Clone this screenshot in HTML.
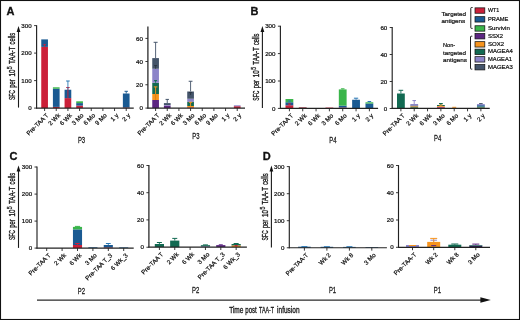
<!DOCTYPE html>
<html lang="en"><head><meta charset="utf-8"><title>Figure</title>
<style>html,body{margin:0;padding:0;background:#fff}svg{display:block}.t{font-family:"Liberation Sans",sans-serif;font-size:6.2px;fill:#111;stroke:#111;stroke-width:0.22px}.l{font-family:"Liberation Sans",sans-serif;font-size:6.05px;fill:#111;stroke:#111;stroke-width:0.22px}.c{font-family:"Liberation Sans",sans-serif;font-size:9.6px;fill:#1a1a1a;stroke:#1a1a1a;stroke-width:0.36px}.cs{font-family:"Liberation Sans",sans-serif;font-size:6.6px;fill:#1a1a1a;stroke:#1a1a1a;stroke-width:0.3px}.pl{font-family:"Liberation Sans",sans-serif;font-size:9.4px;fill:#1a1a1a;stroke:#1a1a1a;stroke-width:0.3px}.p{font-family:"Liberation Sans",sans-serif;font-size:11px;font-weight:bold;fill:#111;stroke:#111;stroke-width:0.3px}</style></head><body>
<svg width="520" height="320" viewBox="0 0 520 320">
<rect x="0" y="0" width="520" height="320" fill="#fff"/>
<rect x="0.5" y="0.5" width="519" height="319" fill="none" stroke="#111" stroke-width="1.1"/>
<text x="6.5" y="14.6" class="p">A</text>
<text x="250.4" y="15" class="p">B</text>
<text x="9.5" y="159.6" class="p">C</text>
<text x="262.8" y="159.6" class="p">D</text>
<rect x="41.25" y="46.9" width="6.7" height="61.2" fill="#CB2039"/>
<rect x="41.25" y="39.4" width="6.7" height="7.5" fill="#1A5A92"/>
<line x1="44.6" y1="46.9" x2="44.6" y2="44.6" stroke="#CB2039" stroke-width="0.9"/>
<line x1="43.4" y1="44.6" x2="45.8" y2="44.6" stroke="#CB2039" stroke-width="1"/>
<rect x="52.91" y="106.9" width="6.7" height="1.2" fill="#CB2039"/>
<rect x="52.91" y="88.75" width="6.7" height="18.15" fill="#1A5A92"/>
<rect x="52.91" y="87.3" width="6.7" height="1.45" fill="#3AB54A"/>
<rect x="64.57" y="98.1" width="6.7" height="10" fill="#CB2039"/>
<rect x="64.57" y="89.75" width="6.7" height="8.35" fill="#1A5A92"/>
<line x1="67.92" y1="98.1" x2="67.92" y2="87.5" stroke="#CB2039" stroke-width="0.9"/>
<line x1="66.22" y1="87.5" x2="69.62" y2="87.5" stroke="#CB2039" stroke-width="1"/>
<line x1="67.92" y1="89.75" x2="67.92" y2="81" stroke="#2B78B4" stroke-width="0.9"/>
<line x1="66.12" y1="81" x2="69.72" y2="81" stroke="#2B78B4" stroke-width="1"/>
<rect x="76.23" y="105.6" width="6.7" height="2.5" fill="#CB2039"/>
<rect x="76.23" y="103.1" width="6.7" height="2.5" fill="#1A5A92"/>
<rect x="76.23" y="101.3" width="6.7" height="1.8" fill="#3AB54A"/>
<rect x="122.87" y="107.5" width="6.7" height="0.6" fill="#CB2039"/>
<rect x="122.87" y="93.5" width="6.7" height="14" fill="#1A5A92"/>
<line x1="126.22" y1="93.5" x2="126.22" y2="91.3" stroke="#1A5A92" stroke-width="0.9"/>
<line x1="124.52" y1="91.3" x2="127.92" y2="91.3" stroke="#1A5A92" stroke-width="1"/>
<line x1="36.6" y1="25.2" x2="36.6" y2="108.6" stroke="#222" stroke-width="1.15"/>
<line x1="36.1" y1="108.1" x2="133.75" y2="108.1" stroke="#222" stroke-width="1.15"/>
<line x1="34.1" y1="108.1" x2="36.6" y2="108.1" stroke="#222" stroke-width="0.9"/>
<text x="31.7" y="110.2" text-anchor="end" class="t">0</text>
<line x1="34.1" y1="80.6" x2="36.6" y2="80.6" stroke="#222" stroke-width="0.9"/>
<text x="31.7" y="82.7" text-anchor="end" class="t">100</text>
<line x1="34.1" y1="53.1" x2="36.6" y2="53.1" stroke="#222" stroke-width="0.9"/>
<text x="31.7" y="55.2" text-anchor="end" class="t">200</text>
<line x1="34.1" y1="25.6" x2="36.6" y2="25.6" stroke="#222" stroke-width="0.9"/>
<text x="31.7" y="27.7" text-anchor="end" class="t">300</text>
<line x1="44.6" y1="108.1" x2="44.6" y2="111" stroke="#222" stroke-width="0.9"/>
<text transform="translate(49,115.8) rotate(-45)" text-anchor="end" class="t">Pre-TAA T</text>
<line x1="56.26" y1="108.1" x2="56.26" y2="111" stroke="#222" stroke-width="0.9"/>
<text transform="translate(60.66,115.8) rotate(-45)" text-anchor="end" class="t">2 Wk</text>
<line x1="67.92" y1="108.1" x2="67.92" y2="111" stroke="#222" stroke-width="0.9"/>
<text transform="translate(72.32,115.8) rotate(-45)" text-anchor="end" class="t">6 Wk</text>
<line x1="79.58" y1="108.1" x2="79.58" y2="111" stroke="#222" stroke-width="0.9"/>
<text transform="translate(83.98,115.8) rotate(-45)" text-anchor="end" class="t">3 Mo</text>
<line x1="91.24" y1="108.1" x2="91.24" y2="111" stroke="#222" stroke-width="0.9"/>
<text transform="translate(95.64,115.8) rotate(-45)" text-anchor="end" class="t">6 Mo</text>
<line x1="102.9" y1="108.1" x2="102.9" y2="111" stroke="#222" stroke-width="0.9"/>
<text transform="translate(107.3,115.8) rotate(-45)" text-anchor="end" class="t">9 Mo</text>
<line x1="114.56" y1="108.1" x2="114.56" y2="111" stroke="#222" stroke-width="0.9"/>
<text transform="translate(118.96,115.8) rotate(-45)" text-anchor="end" class="t">1 y</text>
<line x1="126.22" y1="108.1" x2="126.22" y2="111" stroke="#222" stroke-width="0.9"/>
<text transform="translate(130.62,115.8) rotate(-45)" text-anchor="end" class="t">2 y</text>
<rect x="152.25" y="100" width="6.7" height="8.1" fill="#5C2682"/>
<rect x="152.25" y="94" width="6.7" height="6" fill="#F7941E"/>
<rect x="152.25" y="82.75" width="6.7" height="11.25" fill="#126A52"/>
<rect x="152.25" y="68.75" width="6.7" height="14" fill="#8C84C9"/>
<rect x="152.25" y="58.1" width="6.7" height="10.65" fill="#44546A"/>
<line x1="155.6" y1="100" x2="155.6" y2="94" stroke="#D9800F" stroke-width="0.9"/>
<line x1="155.6" y1="94" x2="155.6" y2="86.9" stroke="#F7941E" stroke-width="0.9"/>
<line x1="153.8" y1="86.9" x2="157.4" y2="86.9" stroke="#F7941E" stroke-width="1"/>
<line x1="155.6" y1="82.75" x2="155.6" y2="80.6" stroke="#126A52" stroke-width="0.9"/>
<line x1="154.1" y1="80.6" x2="157.1" y2="80.6" stroke="#126A52" stroke-width="1"/>
<line x1="155.6" y1="68.75" x2="155.6" y2="65.6" stroke="#2b3442" stroke-width="0.9"/>
<line x1="154.1" y1="65.6" x2="157.1" y2="65.6" stroke="#2b3442" stroke-width="1"/>
<line x1="155.6" y1="58.1" x2="155.6" y2="42.3" stroke="#44546A" stroke-width="0.9"/>
<line x1="153.6" y1="42.3" x2="157.6" y2="42.3" stroke="#44546A" stroke-width="1"/>
<rect x="163.91" y="105.6" width="6.7" height="2.5" fill="#5C2682"/>
<rect x="163.91" y="105" width="6.7" height="0.6" fill="#8C84C9"/>
<rect x="163.91" y="103.1" width="6.7" height="1.9" fill="#44546A"/>
<line x1="167.26" y1="103.1" x2="167.26" y2="99.4" stroke="#44546A" stroke-width="0.9"/>
<line x1="165.56" y1="99.4" x2="168.96" y2="99.4" stroke="#44546A" stroke-width="1"/>
<rect x="187.23" y="107.4" width="6.7" height="0.7" fill="#CB2039"/>
<rect x="187.23" y="106" width="6.7" height="1.4" fill="#F7941E"/>
<rect x="187.23" y="101.9" width="6.7" height="4.1" fill="#126A52"/>
<rect x="187.23" y="98.75" width="6.7" height="3.15" fill="#8C84C9"/>
<rect x="187.23" y="91.5" width="6.7" height="7.25" fill="#44546A"/>
<line x1="190.58" y1="106" x2="190.58" y2="102.3" stroke="#F7941E" stroke-width="0.9"/>
<line x1="188.88" y1="102.3" x2="192.28" y2="102.3" stroke="#F7941E" stroke-width="1"/>
<line x1="190.58" y1="95" x2="190.58" y2="92.6" stroke="#2b3442" stroke-width="0.9"/>
<line x1="188.88" y1="92.6" x2="192.28" y2="92.6" stroke="#2b3442" stroke-width="1"/>
<line x1="190.58" y1="91.5" x2="190.58" y2="81.25" stroke="#44546A" stroke-width="0.9"/>
<line x1="188.68" y1="81.25" x2="192.48" y2="81.25" stroke="#44546A" stroke-width="1"/>
<rect x="233.87" y="106.2" width="6.7" height="1.9" fill="#CB2039"/>
<rect x="233.87" y="105.3" width="6.7" height="0.9" fill="#8C84C9"/>
<line x1="147.9" y1="26.5" x2="147.9" y2="108.6" stroke="#222" stroke-width="1.25"/>
<line x1="147.4" y1="108.1" x2="245" y2="108.1" stroke="#222" stroke-width="1.25"/>
<line x1="145.4" y1="108.1" x2="147.9" y2="108.1" stroke="#222" stroke-width="0.9"/>
<text x="143" y="110.2" text-anchor="end" class="t">0</text>
<line x1="145.4" y1="84.75" x2="147.9" y2="84.75" stroke="#222" stroke-width="0.9"/>
<text x="143" y="86.85" text-anchor="end" class="t">20</text>
<line x1="145.4" y1="61.5" x2="147.9" y2="61.5" stroke="#222" stroke-width="0.9"/>
<text x="143" y="63.6" text-anchor="end" class="t">40</text>
<line x1="145.4" y1="38.4" x2="147.9" y2="38.4" stroke="#222" stroke-width="0.9"/>
<text x="143" y="40.5" text-anchor="end" class="t">60</text>
<line x1="155.6" y1="108.1" x2="155.6" y2="111" stroke="#222" stroke-width="0.9"/>
<text transform="translate(160,115.8) rotate(-45)" text-anchor="end" class="t">Pre-TAA T</text>
<line x1="167.26" y1="108.1" x2="167.26" y2="111" stroke="#222" stroke-width="0.9"/>
<text transform="translate(171.66,115.8) rotate(-45)" text-anchor="end" class="t">2 Wk</text>
<line x1="178.92" y1="108.1" x2="178.92" y2="111" stroke="#222" stroke-width="0.9"/>
<text transform="translate(183.32,115.8) rotate(-45)" text-anchor="end" class="t">6 Wk</text>
<line x1="190.58" y1="108.1" x2="190.58" y2="111" stroke="#222" stroke-width="0.9"/>
<text transform="translate(194.98,115.8) rotate(-45)" text-anchor="end" class="t">3 Mo</text>
<line x1="202.24" y1="108.1" x2="202.24" y2="111" stroke="#222" stroke-width="0.9"/>
<text transform="translate(206.64,115.8) rotate(-45)" text-anchor="end" class="t">6 Mo</text>
<line x1="213.9" y1="108.1" x2="213.9" y2="111" stroke="#222" stroke-width="0.9"/>
<text transform="translate(218.3,115.8) rotate(-45)" text-anchor="end" class="t">9 Mo</text>
<line x1="225.56" y1="108.1" x2="225.56" y2="111" stroke="#222" stroke-width="0.9"/>
<text transform="translate(229.96,115.8) rotate(-45)" text-anchor="end" class="t">1 y</text>
<line x1="237.22" y1="108.1" x2="237.22" y2="111" stroke="#222" stroke-width="0.9"/>
<text transform="translate(241.62,115.8) rotate(-45)" text-anchor="end" class="t">2 y</text>
<rect x="285.5" y="105.25" width="7.8" height="3.15" fill="#CB2039"/>
<rect x="285.5" y="102.25" width="7.8" height="3" fill="#1A5A92"/>
<rect x="285.5" y="99" width="7.8" height="3.25" fill="#3AB54A"/>
<line x1="289.4" y1="105.25" x2="289.4" y2="104" stroke="#CB2039" stroke-width="0.9"/>
<line x1="287.9" y1="104" x2="290.9" y2="104" stroke="#CB2039" stroke-width="1"/>
<line x1="289.4" y1="102.25" x2="289.4" y2="101" stroke="#2B78B4" stroke-width="0.9"/>
<line x1="287.9" y1="101" x2="290.9" y2="101" stroke="#2B78B4" stroke-width="1"/>
<rect x="298.83" y="107.4" width="7.8" height="1" fill="#8a1c2c"/>
<rect x="325.49" y="107.6" width="7.8" height="0.8" fill="#CB2039"/>
<rect x="338.82" y="107.5" width="7.8" height="0.9" fill="#CB2039"/>
<rect x="338.82" y="105.6" width="7.8" height="1.9" fill="#1A5A92"/>
<rect x="338.82" y="89.4" width="7.8" height="16.2" fill="#3AB54A"/>
<line x1="342.72" y1="89.4" x2="342.72" y2="88.8" stroke="#3AB54A" stroke-width="0.9"/>
<line x1="340.92" y1="88.8" x2="344.52" y2="88.8" stroke="#3AB54A" stroke-width="1"/>
<rect x="352.15" y="99.75" width="7.8" height="8.65" fill="#1A5A92"/>
<line x1="356.05" y1="99.75" x2="356.05" y2="98.2" stroke="#2B78B4" stroke-width="0.9"/>
<line x1="353.9" y1="98.2" x2="358.2" y2="98.2" stroke="#2B78B4" stroke-width="1"/>
<rect x="365.48" y="103.5" width="7.8" height="4.9" fill="#1A5A92"/>
<rect x="365.48" y="102.3" width="7.8" height="1.2" fill="#3AB54A"/>
<line x1="369.38" y1="102.3" x2="369.38" y2="101.5" stroke="#2B78B4" stroke-width="0.9"/>
<line x1="367.58" y1="101.5" x2="371.18" y2="101.5" stroke="#2B78B4" stroke-width="1"/>
<line x1="280.4" y1="25.8" x2="280.4" y2="108.9" stroke="#222" stroke-width="1.15"/>
<line x1="279.9" y1="108.4" x2="378.1" y2="108.4" stroke="#222" stroke-width="1.15"/>
<line x1="277.9" y1="108.4" x2="280.4" y2="108.4" stroke="#222" stroke-width="0.9"/>
<text x="275.5" y="110.5" text-anchor="end" class="t">0</text>
<line x1="277.9" y1="81" x2="280.4" y2="81" stroke="#222" stroke-width="0.9"/>
<text x="275.5" y="83.1" text-anchor="end" class="t">100</text>
<line x1="277.9" y1="53.6" x2="280.4" y2="53.6" stroke="#222" stroke-width="0.9"/>
<text x="275.5" y="55.7" text-anchor="end" class="t">200</text>
<line x1="277.9" y1="26.2" x2="280.4" y2="26.2" stroke="#222" stroke-width="0.9"/>
<text x="275.5" y="28.3" text-anchor="end" class="t">300</text>
<line x1="289.4" y1="108.4" x2="289.4" y2="111.3" stroke="#222" stroke-width="0.9"/>
<text transform="translate(293.8,116.1) rotate(-45)" text-anchor="end" class="t">Pre-TAA T</text>
<line x1="302.73" y1="108.4" x2="302.73" y2="111.3" stroke="#222" stroke-width="0.9"/>
<text transform="translate(307.13,116.1) rotate(-45)" text-anchor="end" class="t">2 Wk</text>
<line x1="316.06" y1="108.4" x2="316.06" y2="111.3" stroke="#222" stroke-width="0.9"/>
<text transform="translate(320.46,116.1) rotate(-45)" text-anchor="end" class="t">6 Wk</text>
<line x1="329.39" y1="108.4" x2="329.39" y2="111.3" stroke="#222" stroke-width="0.9"/>
<text transform="translate(333.79,116.1) rotate(-45)" text-anchor="end" class="t">3 Mo</text>
<line x1="342.72" y1="108.4" x2="342.72" y2="111.3" stroke="#222" stroke-width="0.9"/>
<text transform="translate(347.12,116.1) rotate(-45)" text-anchor="end" class="t">6 Mo</text>
<line x1="356.05" y1="108.4" x2="356.05" y2="111.3" stroke="#222" stroke-width="0.9"/>
<text transform="translate(360.45,116.1) rotate(-45)" text-anchor="end" class="t">1 y</text>
<line x1="369.38" y1="108.4" x2="369.38" y2="111.3" stroke="#222" stroke-width="0.9"/>
<text transform="translate(373.78,116.1) rotate(-45)" text-anchor="end" class="t">2 y</text>
<rect x="397" y="93.5" width="7.8" height="14.9" fill="#126A52"/>
<line x1="400.9" y1="93.5" x2="400.9" y2="90.3" stroke="#126A52" stroke-width="0.9"/>
<line x1="398.6" y1="90.3" x2="403.2" y2="90.3" stroke="#126A52" stroke-width="1"/>
<rect x="410.33" y="107.2" width="7.8" height="1.2" fill="#126A52"/>
<rect x="410.33" y="106.3" width="7.8" height="0.9" fill="#F7941E"/>
<rect x="410.33" y="105.4" width="7.8" height="0.9" fill="#44546A"/>
<rect x="410.33" y="104" width="7.8" height="1.4" fill="#8C84C9"/>
<line x1="414.23" y1="104" x2="414.23" y2="100.6" stroke="#8C84C9" stroke-width="0.9"/>
<line x1="412.43" y1="100.6" x2="416.03" y2="100.6" stroke="#8C84C9" stroke-width="1"/>
<rect x="436.99" y="107.4" width="7.8" height="1" fill="#5C2682"/>
<rect x="436.99" y="106.7" width="7.8" height="0.7" fill="#CB2039"/>
<rect x="436.99" y="106" width="7.8" height="0.7" fill="#F7941E"/>
<rect x="436.99" y="105" width="7.8" height="1" fill="#126A52"/>
<line x1="440.89" y1="106" x2="440.89" y2="105" stroke="#F7941E" stroke-width="0.9"/>
<line x1="439.09" y1="105" x2="442.69" y2="105" stroke="#F7941E" stroke-width="1"/>
<line x1="440.89" y1="105" x2="440.89" y2="103.5" stroke="#126A52" stroke-width="0.9"/>
<line x1="438.99" y1="103.5" x2="442.79" y2="103.5" stroke="#126A52" stroke-width="1"/>
<line x1="452.22" y1="107.3" x2="456.22" y2="107.3" stroke="#F7941E" stroke-width="1"/>
<rect x="476.98" y="107.6" width="7.8" height="0.8" fill="#F7941E"/>
<rect x="476.98" y="106.5" width="7.8" height="1.1" fill="#126A52"/>
<rect x="476.98" y="105.2" width="7.8" height="1.3" fill="#1A5A92"/>
<rect x="476.98" y="104.1" width="7.8" height="1.1" fill="#8C84C9"/>
<line x1="480.88" y1="104.1" x2="480.88" y2="103.6" stroke="#44546A" stroke-width="0.9"/>
<line x1="479.08" y1="103.6" x2="482.68" y2="103.6" stroke="#44546A" stroke-width="1"/>
<line x1="392.2" y1="27.1" x2="392.2" y2="108.9" stroke="#222" stroke-width="1.15"/>
<line x1="391.7" y1="108.4" x2="489.75" y2="108.4" stroke="#222" stroke-width="1.15"/>
<line x1="389.7" y1="108.5" x2="392.2" y2="108.5" stroke="#222" stroke-width="0.9"/>
<text x="387.3" y="110.6" text-anchor="end" class="t">0</text>
<line x1="389.7" y1="81.5" x2="392.2" y2="81.5" stroke="#222" stroke-width="0.9"/>
<text x="387.3" y="83.6" text-anchor="end" class="t">20</text>
<line x1="389.7" y1="54.5" x2="392.2" y2="54.5" stroke="#222" stroke-width="0.9"/>
<text x="387.3" y="56.6" text-anchor="end" class="t">40</text>
<line x1="389.7" y1="27.5" x2="392.2" y2="27.5" stroke="#222" stroke-width="0.9"/>
<text x="387.3" y="29.6" text-anchor="end" class="t">60</text>
<line x1="400.9" y1="108.4" x2="400.9" y2="111.3" stroke="#222" stroke-width="0.9"/>
<text transform="translate(405.3,116.1) rotate(-45)" text-anchor="end" class="t">Pre-TAA T</text>
<line x1="414.23" y1="108.4" x2="414.23" y2="111.3" stroke="#222" stroke-width="0.9"/>
<text transform="translate(418.63,116.1) rotate(-45)" text-anchor="end" class="t">2 Wk</text>
<line x1="427.56" y1="108.4" x2="427.56" y2="111.3" stroke="#222" stroke-width="0.9"/>
<text transform="translate(431.96,116.1) rotate(-45)" text-anchor="end" class="t">6 Wk</text>
<line x1="440.89" y1="108.4" x2="440.89" y2="111.3" stroke="#222" stroke-width="0.9"/>
<text transform="translate(445.29,116.1) rotate(-45)" text-anchor="end" class="t">3 Mo</text>
<line x1="454.22" y1="108.4" x2="454.22" y2="111.3" stroke="#222" stroke-width="0.9"/>
<text transform="translate(458.62,116.1) rotate(-45)" text-anchor="end" class="t">6 Mo</text>
<line x1="467.55" y1="108.4" x2="467.55" y2="111.3" stroke="#222" stroke-width="0.9"/>
<text transform="translate(471.95,116.1) rotate(-45)" text-anchor="end" class="t">1 y</text>
<line x1="480.88" y1="108.4" x2="480.88" y2="111.3" stroke="#222" stroke-width="0.9"/>
<text transform="translate(485.28,116.1) rotate(-45)" text-anchor="end" class="t">2 y</text>
<rect x="72.95" y="245" width="9.1" height="3.1" fill="#CB2039"/>
<rect x="72.95" y="229.4" width="9.1" height="15.6" fill="#1A5A92"/>
<rect x="72.95" y="226.9" width="9.1" height="2.5" fill="#3AB54A"/>
<line x1="77.5" y1="245" x2="77.5" y2="243.5" stroke="#CB2039" stroke-width="0.9"/>
<line x1="75.2" y1="243.5" x2="79.8" y2="243.5" stroke="#CB2039" stroke-width="1"/>
<line x1="77.5" y1="226.9" x2="77.5" y2="226.4" stroke="#3AB54A" stroke-width="0.9"/>
<line x1="74.9" y1="226.4" x2="80.1" y2="226.4" stroke="#3AB54A" stroke-width="1"/>
<rect x="88.35" y="247.3" width="9.1" height="0.8" fill="#1A5A92"/>
<rect x="103.75" y="247.4" width="9.1" height="0.7" fill="#CB2039"/>
<rect x="103.75" y="245" width="9.1" height="2.4" fill="#1A5A92"/>
<line x1="108.3" y1="245" x2="108.3" y2="243.5" stroke="#2B78B4" stroke-width="0.9"/>
<line x1="105.9" y1="243.5" x2="110.7" y2="243.5" stroke="#2B78B4" stroke-width="1"/>
<rect x="119.15" y="247.4" width="9.1" height="0.7" fill="#1A5A92"/>
<line x1="37" y1="166.6" x2="37" y2="248.6" stroke="#222" stroke-width="1.15"/>
<line x1="36.5" y1="248.1" x2="133.7" y2="248.1" stroke="#222" stroke-width="1.15"/>
<line x1="34.5" y1="248.1" x2="37" y2="248.1" stroke="#222" stroke-width="0.9"/>
<text x="32.1" y="250.2" text-anchor="end" class="t">0</text>
<line x1="34.5" y1="221.1" x2="37" y2="221.1" stroke="#222" stroke-width="0.9"/>
<text x="32.1" y="223.2" text-anchor="end" class="t">100</text>
<line x1="34.5" y1="194.1" x2="37" y2="194.1" stroke="#222" stroke-width="0.9"/>
<text x="32.1" y="196.2" text-anchor="end" class="t">200</text>
<line x1="34.5" y1="167" x2="37" y2="167" stroke="#222" stroke-width="0.9"/>
<text x="32.1" y="169.1" text-anchor="end" class="t">300</text>
<line x1="46.7" y1="248.1" x2="46.7" y2="251" stroke="#222" stroke-width="0.9"/>
<text transform="translate(51.1,255.8) rotate(-45)" text-anchor="end" class="t">Pre-TAA T</text>
<line x1="62.1" y1="248.1" x2="62.1" y2="251" stroke="#222" stroke-width="0.9"/>
<text transform="translate(66.5,255.8) rotate(-45)" text-anchor="end" class="t">2 Wk</text>
<line x1="77.5" y1="248.1" x2="77.5" y2="251" stroke="#222" stroke-width="0.9"/>
<text transform="translate(81.9,255.8) rotate(-45)" text-anchor="end" class="t">6 Wk</text>
<line x1="92.9" y1="248.1" x2="92.9" y2="251" stroke="#222" stroke-width="0.9"/>
<text transform="translate(97.3,255.8) rotate(-45)" text-anchor="end" class="t">3 Mo</text>
<line x1="108.3" y1="248.1" x2="108.3" y2="251" stroke="#222" stroke-width="0.9"/>
<text transform="translate(112.7,255.8) rotate(-45)" text-anchor="end" class="t">Pre-TAA T_3</text>
<line x1="123.7" y1="248.1" x2="123.7" y2="251" stroke="#222" stroke-width="0.9"/>
<text transform="translate(128.1,255.8) rotate(-45)" text-anchor="end" class="t">6 Wk_3</text>
<rect x="154.8" y="244" width="9.2" height="3.1" fill="#126A52"/>
<line x1="159.4" y1="244" x2="159.4" y2="242.5" stroke="#126A52" stroke-width="0.9"/>
<line x1="156.9" y1="242.5" x2="161.9" y2="242.5" stroke="#126A52" stroke-width="1"/>
<rect x="170.15" y="240.6" width="9.2" height="6.5" fill="#126A52"/>
<line x1="174.75" y1="240.6" x2="174.75" y2="238.4" stroke="#126A52" stroke-width="0.9"/>
<line x1="172.25" y1="238.4" x2="177.25" y2="238.4" stroke="#126A52" stroke-width="1"/>
<rect x="200.85" y="246.3" width="9.2" height="0.8" fill="#8C84C9"/>
<rect x="200.85" y="245.2" width="9.2" height="1.1" fill="#126A52"/>
<line x1="205.45" y1="245.2" x2="205.45" y2="244.9" stroke="#126A52" stroke-width="0.9"/>
<line x1="202.95" y1="244.9" x2="207.95" y2="244.9" stroke="#126A52" stroke-width="1"/>
<rect x="216.2" y="245.1" width="9.2" height="2" fill="#5C2682"/>
<line x1="220.8" y1="245.1" x2="220.8" y2="244.8" stroke="#5C2682" stroke-width="0.9"/>
<line x1="218.8" y1="244.8" x2="222.8" y2="244.8" stroke="#5C2682" stroke-width="1"/>
<rect x="231.55" y="245.4" width="9.2" height="1.7" fill="#F7941E"/>
<rect x="231.55" y="244" width="9.2" height="1.4" fill="#126A52"/>
<line x1="236.15" y1="246.4" x2="236.15" y2="245.6" stroke="#CB2039" stroke-width="0.9"/>
<line x1="234.65" y1="245.6" x2="237.65" y2="245.6" stroke="#CB2039" stroke-width="1"/>
<line x1="236.15" y1="244" x2="236.15" y2="243.5" stroke="#126A52" stroke-width="0.9"/>
<line x1="233.65" y1="243.5" x2="238.65" y2="243.5" stroke="#126A52" stroke-width="1"/>
<line x1="148.9" y1="165.1" x2="148.9" y2="247.6" stroke="#222" stroke-width="1.25"/>
<line x1="148.4" y1="247.1" x2="246.9" y2="247.1" stroke="#222" stroke-width="1.25"/>
<line x1="146.4" y1="247.25" x2="148.9" y2="247.25" stroke="#222" stroke-width="0.9"/>
<text x="144" y="249.35" text-anchor="end" class="t">0</text>
<line x1="146.4" y1="219.9" x2="148.9" y2="219.9" stroke="#222" stroke-width="0.9"/>
<text x="144" y="222" text-anchor="end" class="t">20</text>
<line x1="146.4" y1="192.7" x2="148.9" y2="192.7" stroke="#222" stroke-width="0.9"/>
<text x="144" y="194.8" text-anchor="end" class="t">40</text>
<line x1="146.4" y1="165.5" x2="148.9" y2="165.5" stroke="#222" stroke-width="0.9"/>
<text x="144" y="167.6" text-anchor="end" class="t">60</text>
<line x1="159.4" y1="247.1" x2="159.4" y2="250" stroke="#222" stroke-width="0.9"/>
<text transform="translate(163.8,254.8) rotate(-45)" text-anchor="end" class="t">Pre-TAA T</text>
<line x1="174.75" y1="247.1" x2="174.75" y2="250" stroke="#222" stroke-width="0.9"/>
<text transform="translate(179.15,254.8) rotate(-45)" text-anchor="end" class="t">2 Wk</text>
<line x1="190.1" y1="247.1" x2="190.1" y2="250" stroke="#222" stroke-width="0.9"/>
<text transform="translate(194.5,254.8) rotate(-45)" text-anchor="end" class="t">6 Wk</text>
<line x1="205.45" y1="247.1" x2="205.45" y2="250" stroke="#222" stroke-width="0.9"/>
<text transform="translate(209.85,254.8) rotate(-45)" text-anchor="end" class="t">3 Mo</text>
<line x1="220.8" y1="247.1" x2="220.8" y2="250" stroke="#222" stroke-width="0.9"/>
<text transform="translate(225.2,254.8) rotate(-45)" text-anchor="end" class="t">Pre-TAA T_3</text>
<line x1="236.15" y1="247.1" x2="236.15" y2="250" stroke="#222" stroke-width="0.9"/>
<text transform="translate(240.55,254.8) rotate(-45)" text-anchor="end" class="t">6 Wk_3</text>
<rect x="298.1" y="246.7" width="12.6" height="1.05" fill="#1A5A92"/>
<line x1="301.4" y1="246.6" x2="307.4" y2="246.6" stroke="#2B78B4" stroke-width="1"/>
<rect x="320.6" y="246.8" width="12.6" height="0.95" fill="#1A5A92"/>
<line x1="323.9" y1="246.7" x2="329.9" y2="246.7" stroke="#2B78B4" stroke-width="1"/>
<rect x="343.1" y="246.9" width="12.6" height="0.85" fill="#1A5A92"/>
<line x1="346.4" y1="246.7" x2="352.4" y2="246.7" stroke="#2B78B4" stroke-width="1"/>
<rect x="365.5" y="247.1" width="12.6" height="0.65" fill="#1A5A92"/>
<line x1="289.3" y1="166.2" x2="289.3" y2="248.25" stroke="#222" stroke-width="1.15"/>
<line x1="288.8" y1="247.75" x2="386.9" y2="247.75" stroke="#222" stroke-width="1.15"/>
<line x1="286.8" y1="247.75" x2="289.3" y2="247.75" stroke="#222" stroke-width="0.9"/>
<text x="284.4" y="249.85" text-anchor="end" class="t">0</text>
<line x1="286.8" y1="220.7" x2="289.3" y2="220.7" stroke="#222" stroke-width="0.9"/>
<text x="284.4" y="222.8" text-anchor="end" class="t">100</text>
<line x1="286.8" y1="193.7" x2="289.3" y2="193.7" stroke="#222" stroke-width="0.9"/>
<text x="284.4" y="195.8" text-anchor="end" class="t">200</text>
<line x1="286.8" y1="166.6" x2="289.3" y2="166.6" stroke="#222" stroke-width="0.9"/>
<text x="284.4" y="168.7" text-anchor="end" class="t">300</text>
<line x1="304.4" y1="247.75" x2="304.4" y2="250.65" stroke="#222" stroke-width="0.9"/>
<text transform="translate(308.8,255.45) rotate(-45)" text-anchor="end" class="t">Pre-TAA-T</text>
<line x1="326.9" y1="247.75" x2="326.9" y2="250.65" stroke="#222" stroke-width="0.9"/>
<text transform="translate(331.3,255.45) rotate(-45)" text-anchor="end" class="t">Wk 2</text>
<line x1="349.4" y1="247.75" x2="349.4" y2="250.65" stroke="#222" stroke-width="0.9"/>
<text transform="translate(353.8,255.45) rotate(-45)" text-anchor="end" class="t">Wk 8</text>
<line x1="371.8" y1="247.75" x2="371.8" y2="250.65" stroke="#222" stroke-width="0.9"/>
<text transform="translate(376.2,255.45) rotate(-45)" text-anchor="end" class="t">3 Mo</text>
<rect x="406" y="245" width="13" height="2.3" fill="#8C84C9"/>
<line x1="409" y1="245.5" x2="416" y2="245.5" stroke="#F7941E" stroke-width="1"/>
<rect x="427.2" y="241.9" width="13" height="5.4" fill="#F7941E"/>
<line x1="433.7" y1="246.2" x2="433.7" y2="245.6" stroke="#5C2682" stroke-width="0.9"/>
<line x1="431.2" y1="245.6" x2="436.2" y2="245.6" stroke="#5C2682" stroke-width="1"/>
<line x1="433.7" y1="241.9" x2="433.7" y2="240.2" stroke="#8C84C9" stroke-width="0.9"/>
<line x1="430.45" y1="240.2" x2="436.95" y2="240.2" stroke="#8C84C9" stroke-width="1"/>
<line x1="433.7" y1="241.9" x2="433.7" y2="238.4" stroke="#F7941E" stroke-width="0.9"/>
<line x1="430.2" y1="238.4" x2="437.2" y2="238.4" stroke="#F7941E" stroke-width="1"/>
<rect x="448.3" y="244.7" width="13" height="2.6" fill="#126A52"/>
<line x1="454.8" y1="244.7" x2="454.8" y2="244" stroke="#126A52" stroke-width="0.9"/>
<line x1="451.3" y1="244" x2="458.3" y2="244" stroke="#126A52" stroke-width="1"/>
<rect x="469.3" y="245.5" width="13" height="1.8" fill="#2a1d55"/>
<rect x="469.3" y="245" width="13" height="0.5" fill="#126A52"/>
<line x1="475.8" y1="245" x2="475.8" y2="244.1" stroke="#5C2682" stroke-width="0.9"/>
<line x1="472.3" y1="244.1" x2="479.3" y2="244.1" stroke="#5C2682" stroke-width="1"/>
<line x1="398.5" y1="165.1" x2="398.5" y2="247.8" stroke="#222" stroke-width="1.15"/>
<line x1="398" y1="247.3" x2="490" y2="247.3" stroke="#222" stroke-width="1.15"/>
<line x1="396" y1="247.3" x2="398.5" y2="247.3" stroke="#222" stroke-width="0.9"/>
<text x="393.6" y="249.4" text-anchor="end" class="t">0</text>
<line x1="396" y1="220" x2="398.5" y2="220" stroke="#222" stroke-width="0.9"/>
<text x="393.6" y="222.1" text-anchor="end" class="t">20</text>
<line x1="396" y1="192.7" x2="398.5" y2="192.7" stroke="#222" stroke-width="0.9"/>
<text x="393.6" y="194.8" text-anchor="end" class="t">40</text>
<line x1="396" y1="165.5" x2="398.5" y2="165.5" stroke="#222" stroke-width="0.9"/>
<text x="393.6" y="167.6" text-anchor="end" class="t">60</text>
<line x1="412.5" y1="247.3" x2="412.5" y2="250.2" stroke="#222" stroke-width="0.9"/>
<text transform="translate(416.9,255) rotate(-45)" text-anchor="end" class="t">Pre-TAA-T</text>
<line x1="433.7" y1="247.3" x2="433.7" y2="250.2" stroke="#222" stroke-width="0.9"/>
<text transform="translate(438.1,255) rotate(-45)" text-anchor="end" class="t">Wk 2</text>
<line x1="454.8" y1="247.3" x2="454.8" y2="250.2" stroke="#222" stroke-width="0.9"/>
<text transform="translate(459.2,255) rotate(-45)" text-anchor="end" class="t">Wk 8</text>
<line x1="475.8" y1="247.3" x2="475.8" y2="250.2" stroke="#222" stroke-width="0.9"/>
<text transform="translate(480.2,255) rotate(-45)" text-anchor="end" class="t">3 Mo</text>
<g transform="translate(15.3,100.1) rotate(-90)">
<text x="0" y="0" textLength="10.1" lengthAdjust="spacingAndGlyphs" class="c">SFC</text>
<text x="12.4" y="0" textLength="8.3" lengthAdjust="spacingAndGlyphs" class="c">per</text>
<text x="23.5" y="0" textLength="7" lengthAdjust="spacingAndGlyphs" class="c">10</text>
<text x="30.9" y="-3.3" textLength="2.9" lengthAdjust="spacingAndGlyphs" class="cs">5</text>
<text x="36" y="0" textLength="17.5" lengthAdjust="spacingAndGlyphs" class="c">TAA-T</text>
<text x="55.7" y="0" textLength="11.5" lengthAdjust="spacingAndGlyphs" class="c">cells</text>
</g>
<line x1="18.5" y1="30" x2="18.5" y2="107.6" stroke="#1a1a1a" stroke-width="1.1"/>
<path d="M18.5 26 L20.4 32 L16.6 32 Z" fill="#111"/>
<g transform="translate(259,100.7) rotate(-90)">
<text x="0" y="0" textLength="10.1" lengthAdjust="spacingAndGlyphs" class="c">SFC</text>
<text x="12.4" y="0" textLength="8.3" lengthAdjust="spacingAndGlyphs" class="c">per</text>
<text x="23.5" y="0" textLength="7" lengthAdjust="spacingAndGlyphs" class="c">10</text>
<text x="30.9" y="-3.3" textLength="2.9" lengthAdjust="spacingAndGlyphs" class="cs">5</text>
<text x="36" y="0" textLength="17.5" lengthAdjust="spacingAndGlyphs" class="c">TAA-T</text>
<text x="55.7" y="0" textLength="11.5" lengthAdjust="spacingAndGlyphs" class="c">cells</text>
</g>
<line x1="262.4" y1="30.1" x2="262.4" y2="108" stroke="#1a1a1a" stroke-width="1.1"/>
<path d="M262.4 26.1 L264.3 32.1 L260.5 32.1 Z" fill="#111"/>
<g transform="translate(15,240.1) rotate(-90)">
<text x="0" y="0" textLength="10.1" lengthAdjust="spacingAndGlyphs" class="c">SFC</text>
<text x="12.4" y="0" textLength="8.3" lengthAdjust="spacingAndGlyphs" class="c">per</text>
<text x="23.5" y="0" textLength="7" lengthAdjust="spacingAndGlyphs" class="c">10</text>
<text x="30.9" y="-3.3" textLength="2.9" lengthAdjust="spacingAndGlyphs" class="cs">5</text>
<text x="36" y="0" textLength="17.5" lengthAdjust="spacingAndGlyphs" class="c">TAA-T</text>
<text x="55.7" y="0" textLength="11.5" lengthAdjust="spacingAndGlyphs" class="c">cells</text>
</g>
<line x1="18.5" y1="169.5" x2="18.5" y2="247.9" stroke="#1a1a1a" stroke-width="1.1"/>
<path d="M18.5 165.5 L20.4 171.5 L16.6 171.5 Z" fill="#111"/>
<g transform="translate(267.9,240.5) rotate(-90)">
<text x="0" y="0" textLength="10.1" lengthAdjust="spacingAndGlyphs" class="c">SFC</text>
<text x="12.4" y="0" textLength="8.3" lengthAdjust="spacingAndGlyphs" class="c">per</text>
<text x="23.5" y="0" textLength="7" lengthAdjust="spacingAndGlyphs" class="c">10</text>
<text x="30.9" y="-3.3" textLength="2.9" lengthAdjust="spacingAndGlyphs" class="cs">5</text>
<text x="36" y="0" textLength="17.5" lengthAdjust="spacingAndGlyphs" class="c">TAA-T</text>
<text x="55.7" y="0" textLength="11.5" lengthAdjust="spacingAndGlyphs" class="c">cells</text>
</g>
<line x1="271.4" y1="169.6" x2="271.4" y2="247.6" stroke="#1a1a1a" stroke-width="1.1"/>
<path d="M271.4 165.6 L273.3 171.6 L269.5 171.6 Z" fill="#111"/>
<g transform="translate(81.5,143.1) scale(0.63,1)"><text x="0" y="0" text-anchor="middle" class="pl">P3</text></g>
<g transform="translate(195.8,139.45) scale(0.63,1)"><text x="0" y="0" text-anchor="middle" class="pl">P3</text></g>
<g transform="translate(332.8,143.1) scale(0.63,1)"><text x="0" y="0" text-anchor="middle" class="pl">P4</text></g>
<g transform="translate(437.6,140.7) scale(0.63,1)"><text x="0" y="0" text-anchor="middle" class="pl">P4</text></g>
<g transform="translate(81.4,294.3) scale(0.63,1)"><text x="0" y="0" text-anchor="middle" class="pl">P2</text></g>
<g transform="translate(195.6,293.45) scale(0.63,1)"><text x="0" y="0" text-anchor="middle" class="pl">P2</text></g>
<g transform="translate(332.5,293.45) scale(0.63,1)"><text x="0" y="0" text-anchor="middle" class="pl">P1</text></g>
<g transform="translate(437.3,293.2) scale(0.63,1)"><text x="0" y="0" text-anchor="middle" class="pl">P1</text></g>
<line x1="37" y1="300" x2="482" y2="300" stroke="#2a2a2a" stroke-width="1.25"/>
<path d="M490.8 300 L480.4 297.2 L480.4 302.8 Z" fill="#111"/>
<text x="229.2" y="313" textLength="14.2" lengthAdjust="spacingAndGlyphs" class="c">Time</text>
<text x="245.3" y="313" textLength="11.4" lengthAdjust="spacingAndGlyphs" class="c">post</text>
<text x="259" y="313" textLength="15.1" lengthAdjust="spacingAndGlyphs" class="c">TAA-T</text>
<text x="277.1" y="313" textLength="22.4" lengthAdjust="spacingAndGlyphs" class="c">infusion</text>
<rect x="475" y="7.85" width="9.8" height="5.4" fill="#CB2039" stroke="#151515" stroke-width="0.75"/>
<text x="488" y="11.75" textLength="11.3" lengthAdjust="spacingAndGlyphs" class="l">WT1</text>
<rect x="475" y="16.65" width="9.8" height="5.4" fill="#1A5A92" stroke="#151515" stroke-width="0.75"/>
<text x="488" y="20.75" textLength="20.4" lengthAdjust="spacingAndGlyphs" class="l">PRAME</text>
<rect x="475" y="25.75" width="9.8" height="5.4" fill="#3AB54A" stroke="#151515" stroke-width="0.75"/>
<text x="488" y="30.1" textLength="21.9" lengthAdjust="spacingAndGlyphs" class="l">Survivin</text>
<rect x="475" y="33.5" width="9.8" height="5.4" fill="#5C2682" stroke="#151515" stroke-width="0.75"/>
<text x="488" y="38" textLength="15.1" lengthAdjust="spacingAndGlyphs" class="l">SSX2</text>
<rect x="475" y="41.65" width="9.8" height="5.4" fill="#F7941E" stroke="#151515" stroke-width="0.75"/>
<text x="488" y="45.5" textLength="16.1" lengthAdjust="spacingAndGlyphs" class="l">SOX2</text>
<rect x="475" y="49.15" width="9.8" height="5.4" fill="#126A52" stroke="#151515" stroke-width="0.75"/>
<text x="488" y="53.25" textLength="24.8" lengthAdjust="spacingAndGlyphs" class="l">MAGEA4</text>
<rect x="475" y="56.65" width="9.8" height="5.4" fill="#8C84C9" stroke="#151515" stroke-width="0.75"/>
<text x="488" y="60.75" textLength="24" lengthAdjust="spacingAndGlyphs" class="l">MAGEA1</text>
<rect x="475" y="64.5" width="9.8" height="5.4" fill="#44546A" stroke="#151515" stroke-width="0.75"/>
<text x="488" y="68.5" textLength="24.8" lengthAdjust="spacingAndGlyphs" class="l">MAGEA3</text>
<path d="M472.6 7.5 L471.5 7.5 Q470.8 7.5 470.8 8.2 L470.8 27.7 Q470.8 28.4 471.5 28.4 L472.6 28.4" fill="none" stroke="#111" stroke-width="0.95"/>
<path d="M472.3 36.2 L471.2 36.2 Q470.5 36.2 470.5 36.9 L470.5 68.4 Q470.5 69.1 471.2 69.1 L472.3 69.1" fill="none" stroke="#111" stroke-width="0.95"/>
<text x="441.4" y="16" textLength="24.6" lengthAdjust="spacingAndGlyphs" class="l">Targeted</text>
<text x="441.4" y="23.25" textLength="23.8" lengthAdjust="spacingAndGlyphs" class="l">antigens</text>
<text x="443" y="47" textLength="12.1" lengthAdjust="spacingAndGlyphs" class="l">Non-</text>
<text x="443" y="54.5" textLength="23" lengthAdjust="spacingAndGlyphs" class="l">targeted</text>
<text x="443" y="62" textLength="23.8" lengthAdjust="spacingAndGlyphs" class="l">antigens</text>
</svg></body></html>
